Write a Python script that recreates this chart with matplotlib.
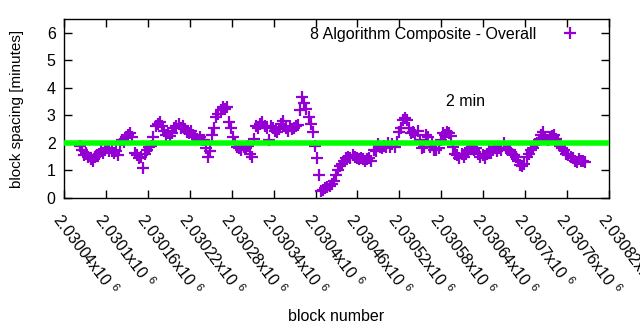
import numpy as np
import matplotlib
matplotlib.use("Agg")
import matplotlib.pyplot as plt
from matplotlib.ticker import FuncFormatter

plt.rcParams['font.family'] = ['Liberation Sans', 'DejaVu Sans']
plt.rcParams['mathtext.fontset'] = 'custom'
plt.rcParams['mathtext.rm'] = 'Liberation Sans'
plt.rcParams['mathtext.it'] = 'Liberation Sans'

# smoothed block spacing (minutes), one sample every 3 blocks
first_block = 2030063
block_step = 3
spacing = [
    1.9, 1.75, 1.55, 1.65, 1.5,
    1.4, 1.35, 1.5, 1.55, 1.6,
    1.7, 1.65, 1.75, 1.8, 1.7,
    1.72, 1.65, 1.7, 1.55, 1.95,
    2.1, 2.05, 2.2, 2.3, 2.35,
    2.2, 1.65, 1.55, 1.45, 1.5,
    1.1, 1.6, 1.75, 1.85, 1.9,
    2.2, 2.6, 2.7, 2.75, 2.6,
    2.45, 2.3, 2.35, 2.25, 2.35,
    2.55, 2.6, 2.7, 2.55, 2.6,
    2.5, 2.4, 2.35, 2.45, 2.3,
    2.2, 2.15, 2.2, 2.1, 2.1,
    1.8, 1.5, 1.7, 2.3, 2.55,
    2.95, 3.05, 3.2, 3.3, 3.25,
    3.3, 2.75, 2.55, 2.2, 2.0,
    1.85, 1.8, 1.75, 1.85, 1.8,
    1.9, 1.6, 1.5, 2.15, 2.6,
    2.55, 2.7, 2.75, 2.6, 2.55,
    2.1, 2.6, 2.55, 2.45, 2.4,
    2.5, 2.7, 2.8, 2.55, 2.45,
    2.6, 2.5, 2.55, 2.6, 2.65,
    3.2, 3.65, 3.45, 3.25, 2.95,
    2.7, 2.4, 1.9, 1.45, 0.85,
    0.25, 0.3, 0.35, 0.4, 0.45,
    0.5, 0.6, 0.85, 1.0, 1.15,
    1.25, 1.35, 1.45, 1.5, 1.45,
    1.55, 1.5, 1.45, 1.4, 1.45,
    1.4, 1.35, 1.4, 1.45, 1.35,
    1.75, 1.7, 1.95, 1.85, 1.8,
    1.9, 1.85, 2.0, 1.85, 1.95,
    1.85, 2.05, 2.4, 2.55, 2.85,
    2.9, 2.85, 2.55, 2.35, 2.4,
    2.3, 2.45, 2.1, 1.8, 1.85,
    2.3, 2.2, 1.85, 1.95, 1.75,
    1.75, 1.8, 2.1, 2.35, 2.3,
    2.4, 2.35, 2.25, 1.85, 1.6,
    1.55, 1.45, 1.6, 1.5, 1.6,
    1.75, 1.8, 1.85, 1.75, 1.8,
    1.6, 1.5, 1.55, 1.45, 1.6,
    1.7, 1.65, 1.75, 1.85, 1.7,
    1.8, 1.75, 2.0, 1.8, 1.75,
    1.75, 1.6, 1.55, 1.5, 1.35,
    1.2, 1.15, 1.25, 1.5, 1.6,
    1.75, 1.8, 1.95, 2.0, 2.1,
    2.3, 2.4, 2.15, 2.1, 2.2,
    2.25, 2.3, 2.15, 2.05, 1.9,
    1.8, 1.75, 1.6, 1.55, 1.5,
    1.45, 1.35, 1.3, 1.4, 1.35,
    1.35, 1.3,
]
blocks = first_block + block_step * np.arange(len(spacing))

target_minutes = 2
x_ticks = np.arange(2030040, 2030821, 60)
y_ticks = [0, 1, 2, 3, 4, 5, 6]

FS = 11.5

fig = plt.figure(figsize=(6.4, 3.3), dpi=100)
ax = fig.add_axes([0.1, 0.4, 0.8516, 0.5424])

ax.plot(blocks, spacing, linestyle='none', marker='+', markersize=8,
        markeredgewidth=1.6, color='#9400d3',
        label='8 Algorithm Composite - Overall')
ax.axhline(target_minutes, color='#00ff00', linewidth=4, zorder=3)
ax.text(2030587, 3.5, '2 min', fontsize=FS, ha='left', va='center')

ax.set_xlim(x_ticks[0], x_ticks[-1])
ax.set_ylim(0, 6.5)
ax.set_xticks(x_ticks)
ax.set_yticks(y_ticks)


def sci_label(v, pos):
    return '%gx10 $^{6}$' % (v / 1e6)


ax.xaxis.set_major_formatter(FuncFormatter(sci_label))
ax.tick_params(axis='both', which='major', direction='in', length=6,
               width=1, top=True, right=True, labelsize=FS, colors='black')
ax.tick_params(axis='x', pad=9)
ax.tick_params(axis='y', pad=6)
for lbl in ax.get_xticklabels():
    lbl.set_rotation(-53)
    lbl.set_ha('left')
    lbl.set_va('top')
    lbl.set_rotation_mode('anchor')

ax.set_xlabel('block number', fontsize=FS)
ax.set_ylabel('block spacing [minutes]', fontsize=11)
ax.xaxis.set_label_coords(0.5, -0.62)
ax.yaxis.set_label_coords(-0.073, 0.5)

leg = ax.legend(loc='upper right', frameon=False, markerfirst=False,
                fontsize=FS, handlelength=2.0, borderaxespad=0.1,
                handletextpad=1.1, bbox_to_anchor=(0.972, 1.0))

for s in ax.spines.values():
    s.set_linewidth(1)

fig.savefig('out.png', dpi=100)
